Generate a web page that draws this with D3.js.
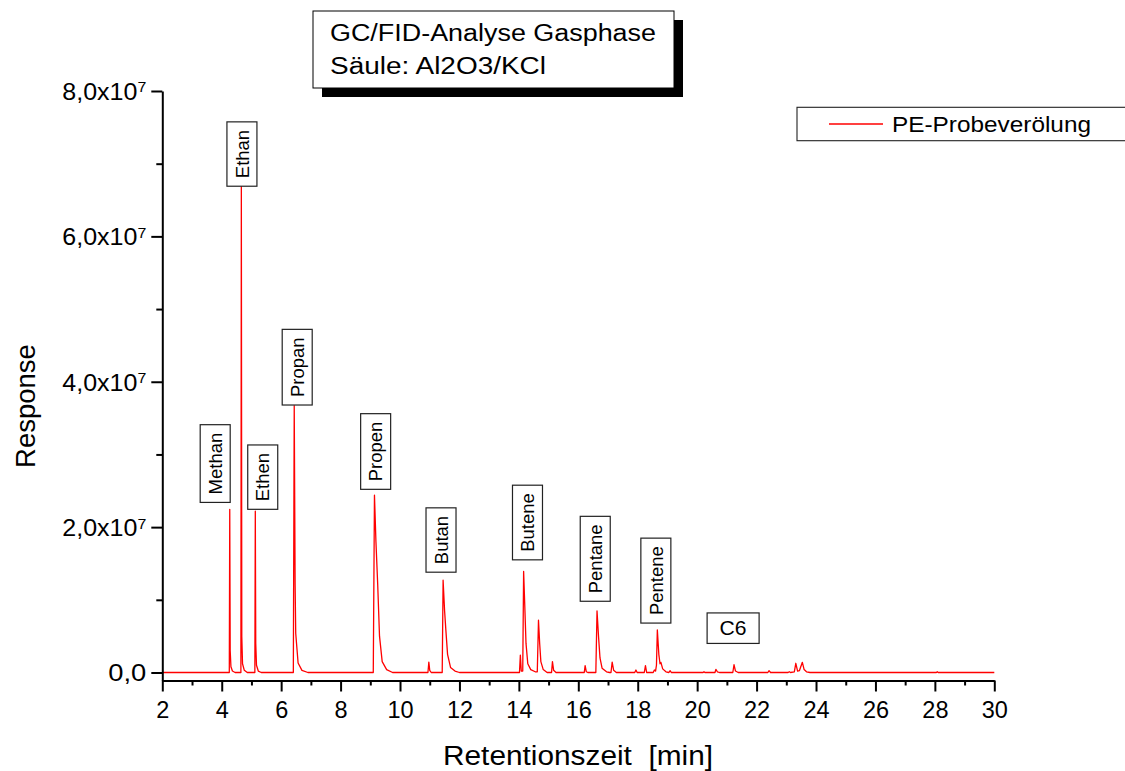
<!DOCTYPE html>
<html><head><meta charset="utf-8">
<script src="https://cdn.jsdelivr.net/npm/d3@7"></script>
<style>
html,body{margin:0;padding:0;background:#fff;}
svg{display:block;font-family:"Liberation Sans",Arial,sans-serif;}
</style></head><body>
<svg id="chart" width="1125" height="771"></svg>
<script>
// ---------- data ----------
// chromatogram trace: [retention time (min), response]
const chromatogram = [
  [2.00,0],[4.255,0],[4.27,2.245e7],[4.285,0.3e7],[4.31,0.08e7],[4.36,0.02e7],[4.45,0],
  [4.645,0],[4.66,6.69e7],[4.675,0.5e7],[4.70,0.12e7],[4.76,0.03e7],[4.86,0],
  [5.115,0],[5.13,2.22e7],[5.145,0.4e7],[5.17,0.1e7],[5.23,0.02e7],[5.33,0],
  [6.41,0],[6.44,3.67e7],[6.47,1.2e7],[6.49,0.54e7],[6.57,0.13e7],[6.70,0.03e7],[6.90,0],
  [9.10,0],[9.14,2.44e7],[9.19,1.8e7],[9.25,1.2e7],[9.31,0.5e7],[9.40,0.15e7],[9.55,0.04e7],[9.75,0],
  [10.94,0],[10.97,0.144e7],[11.00,0.03e7],[11.05,0],
  [11.42,0],[11.45,1.27e7],[11.50,0.85e7],[11.54,0.6e7],[11.60,0.25e7],[11.70,0.07e7],[11.85,0.02e7],[12.00,0],
  [14.02,0],[14.05,0.24e7],[14.08,0.02e7],[14.13,0.02e7],[14.16,1.39e7],[14.20,0.9e7],[14.24,0.4e7],[14.30,0.12e7],[14.40,0.04e7],[14.55,0.01e7],
  [14.62,0.01e7],[14.66,0.72e7],[14.70,0.4e7],[14.74,0.15e7],[14.82,0.04e7],[14.95,0],
  [15.10,0],[15.13,0.15e7],[15.17,0.03e7],[15.25,0],
  [16.20,0],[16.23,0.094e7],[16.27,0.01e7],[16.32,0],
  [16.59,0],[16.63,0.846e7],[16.68,0.5e7],[16.73,0.2e7],[16.80,0.06e7],[16.95,0.01e7],[17.05,0],
  [17.10,0],[17.14,0.144e7],[17.19,0.03e7],[17.28,0],
  [17.90,0],[17.94,0.034e7],[17.98,0],
  [18.22,0],[18.26,0.094e7],[18.30,0],
  [18.52,0],[18.56,0.034e7],[18.60,0.02e7],[18.63,0.1e7],[18.66,0.585e7],[18.71,0.25e7],[18.75,0.12e7],[18.78,0.14e7],[18.84,0.05e7],[18.95,0.01e7],[19.05,0],
  [19.09,0.025e7],[19.13,0],
  [20.20,0],[20.23,0.01e7],[20.26,0],
  [20.60,0],[20.63,0.044e7],[20.68,0.01e7],[20.75,0],
  [21.20,0],[21.24,0.107e7],[21.29,0.02e7],[21.38,0],
  [22.38,0],[22.42,0.025e7],[22.47,0],
  [23.06,0],[23.10,0.01e7],[23.14,0],
  [23.27,0.01e7],[23.32,0.127e7],[23.38,0.02e7],[23.44,0.025e7],[23.54,0.14e7],[23.60,0.04e7],[23.68,0.01e7],[23.80,0],
  [28.05,0],[28.08,0.01e7],[28.11,0],
  [30.00,0]
];

const peakNames     = ["Methan","Ethan","Ethen","Propan","Propen","Butan","Butene","Pentane","Pentene"];
const peakLabelTime = [3.78, 4.68, 5.38, 6.54, 9.18, 11.38, 14.29, 16.57, 18.61];
const peakLabelResp = [2.34e7, 6.69e7, 2.245e7, 3.68e7, 2.52e7, 1.38e7, 1.55e7, 0.98e7, 0.68e7];
const groupLabelName = ["C6"];
const groupLabelTime = [21.21];
const groupLabelResp = [0.40e7];

const xMajorTicks = [2,4,6,8,10,12,14,16,18,20,22,24,26,28,30];
const xMinorTicks = [3,5,7,9,11,13,15,17,19,21,23,25,27,29];
const yMajorTicks = [0, 2e7, 4e7, 6e7, 8e7];
const yTickMantissa = ["0,0", "2,0x10", "4,0x10", "6,0x10", "8,0x10"];
const yTickExponent = ["", "7", "7", "7", "7"];
const yMinorTicks = [1e7, 3e7, 5e7, 7e7];

const seriesName = "PE-Probeverölung";
const titleLines = ["GC/FID-Analyse Gasphase", "Säule: Al2O3/KCl"];
const xTitle = "Retentionszeit  [min]";
const yTitle = "Response";

// ---------- drawing ----------
const svg = d3.select("#chart");
svg.append("rect").attr("width",1125).attr("height",771).attr("fill","#fff");

const x = d3.scaleLinear().domain([2,30]).range([162.3,994.3]);
const y = d3.scaleLinear().domain([-1.1e6,8e7]).range([680.5,91]);

// trace
const line = d3.line().x(d=>x(d[0])).y(d=>y(d[1]));
svg.append("path").datum(chromatogram)
  .attr("d", line).attr("fill","none").attr("stroke","#ff0000")
  .attr("stroke-width",1.3).attr("stroke-linejoin","round");

// x axis
const gx = svg.append("g").attr("transform","translate(0,680.5)");
gx.call(d3.axisBottom(x).tickValues(xMajorTicks).tickSize(11).tickSizeOuter(0).tickFormat(d3.format("d")));
gx.selectAll("text").attr("y",37.8).attr("dy",0).attr("font-size",23.5).attr("fill","#000")
  .attr("font-family","'Liberation Sans',Arial,sans-serif");
const gxm = svg.append("g").attr("transform","translate(0,680.5)");
gxm.call(d3.axisBottom(x).tickValues(xMinorTicks).tickSize(5).tickFormat(""));
gxm.select(".domain").remove();

// y axis
const gy = svg.append("g").attr("transform","translate(162.3,0)");
gy.call(d3.axisLeft(y).tickValues(yMajorTicks).tickSize(11).tickSizeOuter(0).tickFormat(""));
gy.selectAll(".tick").each(function(d,i){
  const t = d3.select(this).append("text")
    .attr("x",-16).attr("y",0).attr("dy","0.36em")
    .attr("text-anchor","end").attr("fill","#000").attr("font-size",23.5)
    .attr("font-family","'Liberation Sans',Arial,sans-serif");
  t.append("tspan").text(yTickMantissa[i]);
  if (yTickExponent[i]) t.append("tspan").attr("dy","-0.5em").attr("font-size",15).text(yTickExponent[i]);
  t.attr("textLength", yTickExponent[i] ? 84 : 38).attr("lengthAdjust","spacingAndGlyphs");
});
const gym = svg.append("g").attr("transform","translate(162.3,0)");
gym.call(d3.axisLeft(y).tickValues(yMinorTicks).tickSize(6).tickFormat(""));
gym.select(".domain").remove();

svg.selectAll(".domain, .tick line").attr("stroke","#000").attr("stroke-width",2);

// axis titles
svg.append("text").attr("x",578).attr("y",765).attr("text-anchor","middle")
  .attr("font-size",27).attr("textLength",270).attr("lengthAdjust","spacingAndGlyphs")
  .style("white-space","pre").text(xTitle);
svg.append("text").attr("transform","translate(35,406) rotate(-90)").attr("text-anchor","middle")
  .attr("font-size",27.5).text(yTitle);

// peak labels (vertical)
peakNames.forEach((name,i)=>{
  const g = svg.append("g").attr("transform",`translate(${x(peakLabelTime[i])},${y(peakLabelResp[i])})`);
  const rect = g.append("rect");
  const txt = g.append("text").attr("text-anchor","middle").attr("font-size",18.5).attr("dy","0.36em").text(name);
  const len = txt.node().getComputedTextLength();
  const h = len + 16;
  rect.attr("x",-15).attr("y",-h).attr("width",30).attr("height",h)
    .attr("fill","#fff").attr("stroke","#222").attr("stroke-width",1.2);
  txt.attr("transform",`translate(0,${-h/2}) rotate(-90)`);
});
// group label (horizontal)
groupLabelName.forEach((name,i)=>{
  const g = svg.append("g").attr("transform",`translate(${x(groupLabelTime[i])},${y(groupLabelResp[i])})`);
  g.append("rect").attr("x",-26).attr("y",-30.5).attr("width",52).attr("height",30.5)
    .attr("fill","#fff").attr("stroke","#222").attr("stroke-width",1.2);
  g.append("text").attr("text-anchor","middle").attr("y",-15.25).attr("dy","0.36em")
    .attr("font-size",19.5).attr("textLength",27).attr("lengthAdjust","spacingAndGlyphs").text(name);
});

// title box with shadow
svg.append("rect").attr("x",322).attr("y",20).attr("width",361).attr("height",77).attr("fill","#000");
svg.append("rect").attr("x",313).attr("y",11).attr("width",361).attr("height",77)
  .attr("fill","#fff").attr("stroke","#000").attr("stroke-width",1);
const titleLens = [326, 216];
titleLines.forEach((s,i)=>{
  svg.append("text").attr("x",330).attr("y",41+i*33).attr("font-size",23.5)
    .attr("textLength",titleLens[i]).attr("lengthAdjust","spacingAndGlyphs").text(s);
});

// legend
svg.append("rect").attr("x",797).attr("y",107.3).attr("width",340).attr("height",33.4)
  .attr("fill","#fff").attr("stroke","#222").attr("stroke-width",1.1);
svg.append("line").attr("x1",829).attr("x2",883).attr("y1",124).attr("y2",124)
  .attr("stroke","#ff0000").attr("stroke-width",1.3);
svg.append("text").attr("x",892).attr("y",132).attr("font-size",22.5)
  .attr("textLength",199).attr("lengthAdjust","spacingAndGlyphs").text(seriesName);
</script>
</body></html>
